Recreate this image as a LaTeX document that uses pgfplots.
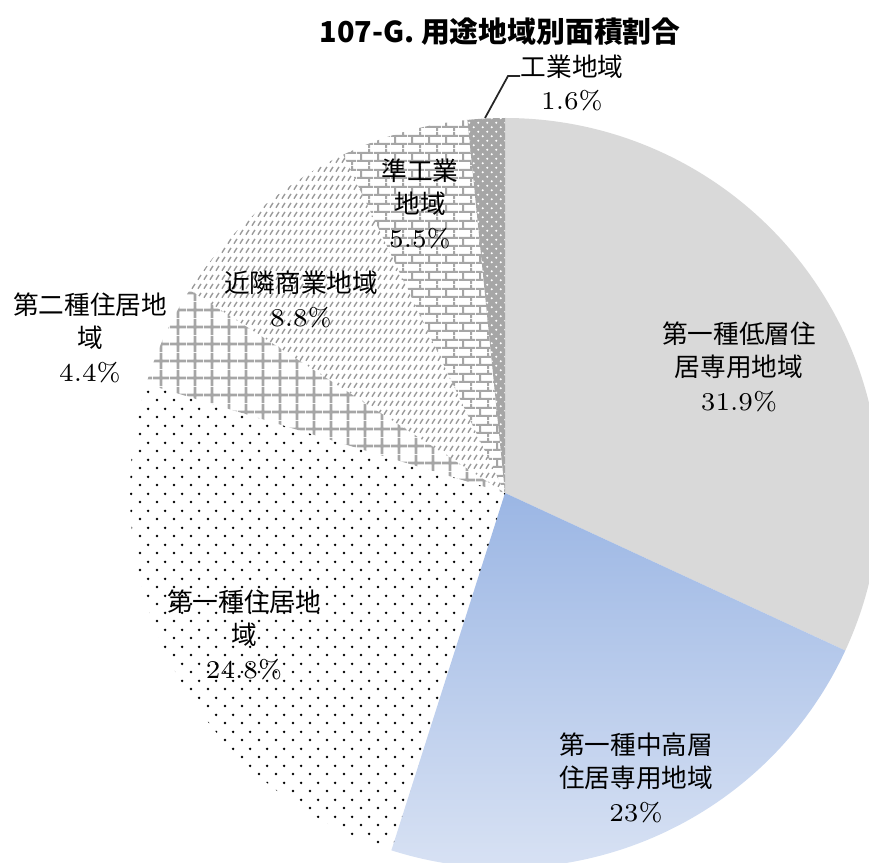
\documentclass[border=0pt]{standalone}
\usepackage{pgfplots}
\pgfplotsset{compat=1.18}
\usepackage{pgfplotstable}
\usepackage{fontspec}
\newfontfamily\cjk{Noto Sans CJK JP}
\usetikzlibrary{patterns}

% 1 px of the reference = 0.01cm = 0.2845pt
\pgfdeclarepatternformonly{sparsedots}{\pgfpointorigin}{\pgfpoint{4.84pt}{4.84pt}}{\pgfpoint{4.84pt}{4.84pt}}{%
  \pgfpathcircle{\pgfpoint{1.21pt}{1.21pt}}{0.42pt}
  \pgfpathcircle{\pgfpoint{3.63pt}{3.63pt}}{0.42pt}
  \pgfusepath{fill}}
\pgfdeclarepatternformonly{gridlines}{\pgfpointorigin}{\pgfpoint{4.84pt}{4.84pt}}{\pgfpoint{4.84pt}{4.84pt}}{%
  \pgfsetlinewidth{0.8pt}
  \pgfpathmoveto{\pgfpoint{2.42pt}{0pt}}\pgfpathlineto{\pgfpoint{2.42pt}{4.84pt}}
  \pgfpathmoveto{\pgfpoint{0pt}{2.42pt}}\pgfpathlineto{\pgfpoint{4.84pt}{2.42pt}}
  \pgfusepath{stroke}}
\pgfdeclarepatternformonly{brickwall}{\pgfpointorigin}{\pgfpoint{4.84pt}{4.84pt}}{\pgfpoint{4.84pt}{4.84pt}}{%
  \pgfsetlinewidth{0.6pt}
  \pgfpathmoveto{\pgfpoint{0pt}{1.21pt}}\pgfpathlineto{\pgfpoint{4.84pt}{1.21pt}}
  \pgfpathmoveto{\pgfpoint{0pt}{3.63pt}}\pgfpathlineto{\pgfpoint{4.84pt}{3.63pt}}
  \pgfpathmoveto{\pgfpoint{1.21pt}{1.21pt}}\pgfpathlineto{\pgfpoint{1.21pt}{3.63pt}}
  \pgfpathmoveto{\pgfpoint{3.63pt}{3.63pt}}\pgfpathlineto{\pgfpoint{3.63pt}{4.84pt}}
  \pgfpathmoveto{\pgfpoint{3.63pt}{0pt}}\pgfpathlineto{\pgfpoint{3.63pt}{1.21pt}}
  \pgfusepath{stroke}}
\pgfdeclarepatternformonly{diagdash}{\pgfpointorigin}{\pgfpoint{1.6pt}{2.6pt}}{\pgfpoint{1.6pt}{2.6pt}}{%
  \pgfsetlinewidth{0.42pt}
  \pgfpathmoveto{\pgfpoint{0.3pt}{0.4pt}}\pgfpathlineto{\pgfpoint{1.2pt}{1.9pt}}
  \pgfusepath{stroke}}
\pgfdeclarepatternformonly{densedots}{\pgfpointorigin}{\pgfpoint{2.56pt}{2.56pt}}{\pgfpoint{2.56pt}{2.56pt}}{%
  \pgfpathcircle{\pgfpoint{0.64pt}{0.64pt}}{0.32pt}
  \pgfpathcircle{\pgfpoint{1.92pt}{1.92pt}}{0.32pt}
  \pgfusepath{fill}}

\definecolor{lowgray}{HTML}{D9D9D9}
\definecolor{patgray}{HTML}{A6A6A6}
\definecolor{dashgray}{HTML}{9A9A9A}
\definecolor{bluetop}{RGB}{155,182,228}
\definecolor{bluebot}{RGB}{222,230,245}

\tikzset{
  slice0/.style={fill=lowgray},
  slice1/.style={top color=bluetop, bottom color=bluebot},
  slice2/.style={pattern=sparsedots, pattern color=black},
  slice3/.style={pattern=gridlines, pattern color=patgray},
  slice4/.style={pattern=diagdash, pattern color=dashgray},
  slice5/.style={pattern=brickwall, pattern color=patgray},
  slice6/.style={fill=patgray, postaction={pattern=densedots, pattern color=white}},
  lbl/.style={align=center, font=\fontsize{7.3}{9.5}\selectfont, inner sep=0pt},
}

% shares in percent, clockwise from the top
\pgfplotstableread{
share
31.9
23
24.8
4.4
8.8
5.5
1.6
}\sharetable

\begin{document}
\begin{tikzpicture}
\begin{axis}[
    scale only axis,
    width=8.69cm, height=8.62cm,
    xmin=-505, xmax=364,
    ymin=-369, ymax=493,
    axis lines=none,
    clip=true,
    ]
    \pgfmathsetmacro\startang{90}
    \pgfplotsforeachungrouped \i in {0,...,6}{
        \pgfplotstablegetelem{\i}{share}\of\sharetable
        \pgfmathsetmacro\endang{\startang-3.6*\pgfplotsretval}
        \edef\temp{\noexpand\path[slice\i] (axis cs:0,0) --
            (axis cs:{375*cos(\startang)},{375*sin(\startang)})
            arc[start angle=\startang, end angle=\endang, radius=3.75cm] -- cycle;}
        \temp
        \let\startang\endang
    }
    \draw[black!85, line width=0.5pt] (axis cs:-20,375) -- (axis cs:3,417) -- (axis cs:15,417);

    \node[font=\cjk\bfseries\fontsize{8.2}{10}\selectfont, inner sep=0pt] at (axis cs:-5,461) {107-G. 用途地域別面積割合};
    \node[lbl] at (axis cs:234,126.5) {{\cjk 第一種低層住}\\{\cjk 居専用地域}\\31.9\%};
    \node[lbl] at (axis cs:131,-284.5) {{\cjk 第一種中高層}\\{\cjk 住居専用地域}\\23\%};
    \node[lbl] at (axis cs:-261,-141.5) {{\cjk 第一種住居地}\\{\cjk 域}\\24.8\%};
    \node[lbl] at (axis cs:-415,155.5) {{\cjk 第二種住居地}\\{\cjk 域}\\4.4\%};
    \node[lbl] at (axis cs:-204,193.5) {{\cjk 近隣商業地域}\\8.8\%};
    \node[lbl] at (axis cs:-85,289.5) {{\cjk 準工業}\\{\cjk 地域}\\5.5\%};
    \node[lbl] at (axis cs:67,410) {{\cjk 工業地域}\\1.6\%};
\end{axis}
\pgfresetboundingbox
\path[use as bounding box] (current axis.south west) rectangle (current axis.north east);
\end{tikzpicture}
\end{document}
